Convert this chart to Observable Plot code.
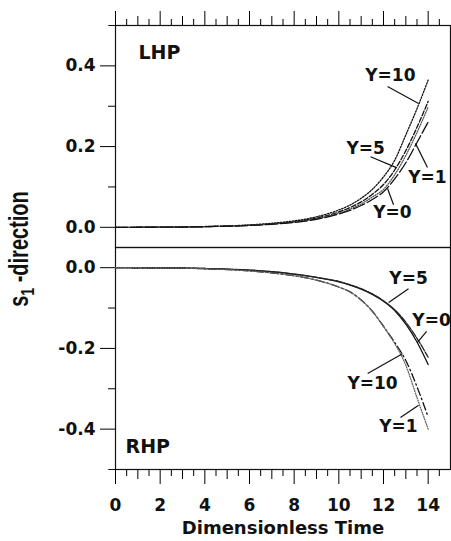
<!DOCTYPE html>
<html><head><meta charset="utf-8">
<script src="https://cdn.jsdelivr.net/npm/d3@7"></script>
<script src="https://cdn.jsdelivr.net/npm/@observablehq/plot@0.6"></script>
<style>
body{margin:0;background:#fff;}
#wrap{position:relative;width:451px;height:541px;overflow:hidden;background:#fff;}
#wrap svg{position:absolute;left:0;overflow:visible;}
#ylab{position:absolute;left:18.5px;top:249px;transform:translate(-50%,-50%) rotate(-90deg) scale(1,1.35);
  white-space:nowrap;font-family:"Liberation Sans",Arial,sans-serif;font-weight:bold;font-size:20px;line-height:20px;color:#111;}
#ylab sub{font-size:0.7em;vertical-align:-0.3em;line-height:0;}
</style></head><body><div id="wrap"></div>
<script>
// ---- data ----
const time = [0, 2, 4, 6, 7, 8, 9, 10, 10.5, 11, 11.5, 12, 12.5, 13, 13.5, 14];
// LHP panel
const lhpY10 = [0, 0.0005, 0.002, 0.006, 0.010, 0.016, 0.026, 0.043, 0.055, 0.072, 0.094, 0.125, 0.166, 0.229, 0.294, 0.365];
const lhpY5  = [0, 0.0004, 0.0017, 0.005, 0.009, 0.014, 0.023, 0.038, 0.049, 0.063, 0.082, 0.106, 0.142, 0.190, 0.248, 0.312];
const lhpY0  = [0, 0.0004, 0.0016, 0.005, 0.008, 0.013, 0.021, 0.035, 0.045, 0.058, 0.075, 0.094, 0.130, 0.178, 0.235, 0.298];
const lhpY1  = [0, 0.0003, 0.0015, 0.0045, 0.0075, 0.012, 0.020, 0.033, 0.042, 0.054, 0.069, 0.088, 0.120, 0.160, 0.210, 0.261];
// RHP panel
const rhpY0  = [0, -0.0005, -0.002, -0.006, -0.010, -0.016, -0.024, -0.035, -0.043, -0.053, -0.066, -0.083, -0.106, -0.140, -0.184, -0.240];
const rhpY5  = [0, -0.0005, -0.002, -0.006, -0.010, -0.016, -0.024, -0.034, -0.042, -0.052, -0.065, -0.082, -0.104, -0.135, -0.175, -0.222];
const rhpY10 = [0, -0.0006, -0.0025, -0.008, -0.013, -0.020, -0.031, -0.048, -0.060, -0.080, -0.108, -0.145, -0.185, -0.230, -0.295, -0.370];
const rhpY1  = [0, -0.0006, -0.0025, -0.008, -0.013, -0.020, -0.031, -0.048, -0.060, -0.080, -0.108, -0.146, -0.188, -0.242, -0.322, -0.400];
// tick values
const xMajor = [0, 2, 4, 6, 8, 10, 12, 14];
const xOdd = [1, 3, 5, 7, 9, 11, 13];
const xHalf = [0.5, 1.5, 2.5, 3.5, 4.5, 5.5, 6.5, 7.5, 8.5, 9.5, 10.5, 11.5, 12.5, 13.5, 14.5];
const lhpTicks = [0, 0.2, 0.4];
const lhpMinor = [0.1, 0.3];
const rhpTicks = [0, -0.2, -0.4];
const rhpMinor = [-0.1, -0.3];
// annotations: label, position, pointer (from -> to)
const lhpLabels = [
  {text: "Y=10", t: 12.31, v: 0.376, t1: 12.18, v1: 0.349, t2: 13.57, v2: 0.307},
  {text: "Y=5",  t: 11.2,  v: 0.195, t1: 11.42, v1: 0.175, t2: 12.58, v2: 0.148},
  {text: "Y=1",  t: 13.97, v: 0.123, t1: 13.97, v1: 0.148, t2: 13.43, v2: 0.208},
  {text: "Y=0",  t: 12.4,  v: 0.037, t1: 12.45, v1: 0.056, t2: 12.18, v2: 0.096}
];
const rhpLabels = [
  {text: "Y=5",  t: 13.12, v: -0.027, t1: 13.12, v1: -0.052, t2: 12.23, v2: -0.086},
  {text: "Y=0",  t: 14.15, v: -0.131, t1: 13.93, v1: -0.158, t2: 13.52, v2: -0.185},
  {text: "Y=10", t: 11.51, v: -0.287, t1: 11.29, v1: -0.262, t2: 12.85, v2: -0.213},
  {text: "Y=1",  t: 12.67, v: -0.393, t1: 12.76, v1: -0.371, t2: 13.57, v2: -0.341}
];
const panelNames = [{text: "LHP", t: 1.03, v: 0.433}, {text: "RHP", t: 0.45, v: -0.445}];
const xTitle = "Dimensionless Time";

// ---- drawing ----
const FONT = "DejaVu Sans";
const rows = (vals) => time.map((t, i) => ({t, v: vals[i]}));
const fmt = d => d.toFixed(1);
const lineOpts = {x: "t", y: "v", curve: "monotone-x", strokeWidth: 1.3};

function frameMarks(yTop, ticks, minor, anchorX) {
  const xo = {anchor: anchorX, label: null};
  return [
    Plot.frame({stroke: "#111", strokeWidth: 1.2}),
    Plot.ruleY([yTop], {x1: -0.3, x2: 15, stroke: "#111", strokeWidth: 1.2}),
    Plot.axisX({...xo, ticks: xMajor, tickSize: 15, text: null}),
    Plot.axisX({...xo, ticks: xOdd, tickSize: 10, text: null}),
    Plot.axisX({...xo, ticks: xHalf, tickSize: 7, text: null}),
    Plot.axisY({ticks: ticks, tickSize: 15, text: null, label: null}),
    Plot.axisY({ticks: minor, tickSize: 7, text: null, label: null}),
    Plot.axisY({ticks: ticks, tickSize: 0, tickPadding: 20, tickFormat: fmt, label: null,
      fontSize: 17, fontFamily: FONT, fontWeight: "bold", fill: "#111"})
  ];
}
function annot(labels) {
  return [
    Plot.link(labels, {x1: "t1", y1: "v1", x2: "t2", y2: "v2", stroke: "#111", strokeWidth: 1.2}),
    Plot.text(labels, {x: "t", y: "v", text: "text", fontSize: 17, fontFamily: FONT, fontWeight: "bold", fill: "#111"})
  ];
}

const topPlot = Plot.plot({
  width: 451, height: 248,
  marginLeft: 115, marginRight: 1, marginTop: 25, marginBottom: 1,
  style: {fontFamily: FONT, fontWeight: "bold", background: "transparent", overflow: "visible"},
  x: {domain: [0, 15]},
  y: {domain: [-0.05, 0.5]},
  marks: [
    ...frameMarks(0.5, lhpTicks, lhpMinor, "top"),
    Plot.line(rows(lhpY10), {...lineOpts, stroke: "#111", strokeDasharray: "1.5,1.5"}),
    Plot.line(rows(lhpY5),  {...lineOpts, stroke: "#111", strokeDasharray: "5,2"}),
    Plot.line(rows(lhpY0),  {...lineOpts, stroke: "#555", strokeDasharray: "1,1.5"}),
    Plot.line(rows(lhpY1),  {...lineOpts, stroke: "#111", strokeDasharray: "12,3"}),
    ...annot(lhpLabels),
    Plot.text([panelNames[0]], {x: "t", y: "v", text: "text", textAnchor: "start", fontSize: 19, fontFamily: FONT, fontWeight: "bold", fill: "#111"})
  ]
});
topPlot.style.top = "0px";

const bottomPlot = Plot.plot({
  width: 451, height: 304,
  marginLeft: 115, marginRight: 1, marginTop: 10, marginBottom: 72,
  style: {fontFamily: FONT, fontWeight: "bold", background: "transparent", overflow: "visible"},
  x: {domain: [0, 15]},
  y: {domain: [-0.5, 0.05]},
  marks: [
    ...frameMarks(-0.5, rhpTicks, rhpMinor, "bottom"),
    Plot.axisX({anchor: "bottom", ticks: xMajor, tickSize: 0, tickPadding: 29, label: null,
      fontSize: 17, fontFamily: FONT, fontWeight: "bold", fill: "#111"}),
    Plot.text([xTitle], {frameAnchor: "bottom", dy: 52, lineAnchor: "top", text: d => d,
      fontSize: 18, fontFamily: FONT, fontWeight: "bold", fill: "#111"}),
    Plot.line(rows(rhpY0),  {...lineOpts, stroke: "#111"}),
    Plot.line(rows(rhpY5),  {...lineOpts, stroke: "#222", strokeDasharray: "7,1.5"}),
    Plot.line(rows(rhpY10), {...lineOpts, stroke: "#111", strokeDasharray: "8,3,1.5,3"}),
    Plot.line(rows(rhpY1),  {...lineOpts, stroke: "#666", strokeDasharray: "1,1.5"}),
    ...annot(rhpLabels),
    Plot.text([panelNames[1]], {x: "t", y: "v", text: "text", textAnchor: "start", fontSize: 19, fontFamily: FONT, fontWeight: "bold", fill: "#111"})
  ]
});
bottomPlot.style.top = "237px";

const wrap = document.getElementById("wrap");
wrap.appendChild(bottomPlot);
wrap.appendChild(topPlot);
const yl = document.createElement("div");
yl.id = "ylab";
yl.innerHTML = "s<sub>1</sub> -direction";
wrap.appendChild(yl);
</script>
</body></html>
